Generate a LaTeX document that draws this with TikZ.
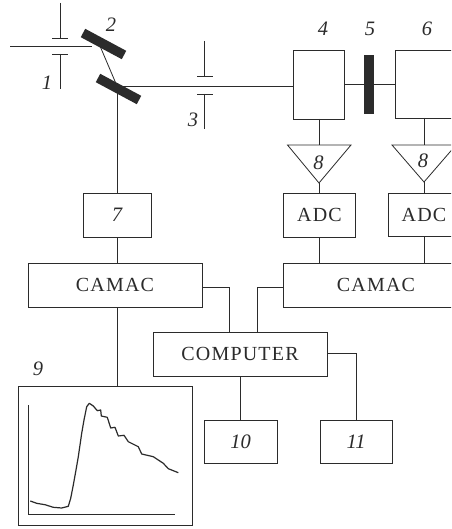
\documentclass[tikz,border=0pt]{standalone}
\usepackage{fontspec}
\setmainfont{Liberation Serif}
\newfontfamily\spacedfont[LetterSpace=6]{Liberation Serif}
\definecolor{ink}{HTML}{2B2B2B}
\tikzset{
  wire/.style={draw=ink,line width=0.8pt},
  boxnode/.style={draw=ink,line width=0.8pt,fill=white,inner sep=0pt,outer sep=0pt,text=ink,font=\spacedfont\fontsize{20}{22}\selectfont},
  numlabel/.style={font=\normalfont\fontsize{20.5}{22}\selectfont\itshape,text=ink,inner sep=0pt},
  mirror/.style={draw=ink,line width=9.5pt},
}
\newcommand{\mybox}[6]{\node[boxnode,minimum width=#4pt,minimum height=#5pt] (#1) at (#2,#3) {#6};}
\newcommand{\numtxt}[1]{{\normalfont\fontsize{20.5}{22}\selectfont\itshape #1}}
\begin{document}
\begin{tikzpicture}[x=1pt,y=-1pt]
\useasboundingbox (0,0) rectangle (451,529);
\clip (0,0) rectangle (451,529);
\fill[white] (0,0) rectangle (451,529);
% boxes
\mybox{bfour}{319}{84.5}{51}{69}{}
\mybox{bsix}{427.5}{84}{65}{68}{}
\mybox{bseven}{117}{215}{68}{44}{\numtxt{7}}
\mybox{adca}{319.5}{215}{72}{44}{ADC}
\mybox{adcb}{424}{214.5}{72}{43}{ADC}
\mybox{cama}{115}{285}{174}{44}{CAMAC}
\mybox{camb}{376}{285}{186}{44}{CAMAC}
\mybox{comp}{240}{354}{174}{44}{COMPUTER}
\mybox{bten}{240.5}{441.5}{73}{43}{\numtxt{10}}
\mybox{beleven}{356}{441.5}{72}{43}{\numtxt{11}}
\mybox{bnine}{105}{455.5}{174}{139}{}
% filter 5
\node[draw=none,fill=ink,minimum width=10pt,minimum height=59pt,inner sep=0pt] (filt) at (369,84.5) {};
% triangles
\coordinate (tal) at (287.5,145); \coordinate (tar) at (351,145); \coordinate (taa) at (319,183); \coordinate (tat) at (319,145);
\coordinate (tbl) at (392,145); \coordinate (tbr) at (456,145); \coordinate (tba) at (424,182); \coordinate (tbt) at (424,145);
\draw[wire,line join=miter] (tal) -- (tar) -- (taa) -- cycle;
\draw[wire,line join=miter] (tbl) -- (tbr) -- (tba) -- cycle;
\node[numlabel] (eighta) at (318.5,163) {8};
\node[numlabel] (eightb) at (423,161) {8};
% optics coordinates
\coordinate (beamstart) at (10,46); \coordinate (mtwo) at (92,46); \coordinate (mtwohit) at (100,46);
\coordinate (mlow) at (117,86); \coordinate (mlowdown) at (117,93);
\coordinate (slotAup) at (60,38); \coordinate (slotAdn) at (60,54);
\coordinate (slotAtop) at (60,3); \coordinate (slotAbot) at (60,89);
\coordinate (slotBup) at (204.5,76); \coordinate (slotBdn) at (204.5,94);
\coordinate (slotBtop) at (204.5,41); \coordinate (slotBbot) at (204.5,129);
% optics wires
\draw[wire] (beamstart) -- (mtwo);
\draw[wire] (mtwohit) -- (mlow);
\draw[wire] (mlow) -- (bfour.west |- mlow);
\draw[wire] (mlowdown) -- (bseven.north);
\draw[wire] (slotAtop) -- (slotAup);
\draw[wire] (slotAdn) -- (slotAbot);
\draw[wire] (52,38) -- (68,38);
\draw[wire] (52,54) -- (68,54);
\draw[wire] (slotBtop) -- (slotBup);
\draw[wire] (slotBdn) -- (slotBbot);
\draw[wire] (197,76) -- (213,76);
\draw[wire] (197,94) -- (213,94);
\draw[mirror] (83,33) -- (124,55);
\draw[mirror] (98,78) -- (139,100);
% connectors
\draw[wire] (bfour.east |- filt) -- (filt.west);
\draw[wire] (filt.east) -- (bsix.west |- filt);
\draw[wire] (tat |- bfour.south) -- (tat);
\draw[wire] (tbt |- bsix.south) -- (tbt);
\draw[wire] (taa) -- (taa |- adca.north);
\draw[wire] (tba) -- (tba |- adcb.north);
\draw[wire] (taa |- adca.south) -- (taa |- camb.north);
\draw[wire] (tba |- adcb.south) -- (tba |- camb.north);
\draw[wire] (bseven.south) -- (bseven.south |- cama.north);
\draw[wire] (bseven.south |- cama.south) -- (bseven.south |- bnine.north);
\coordinate (busa) at (229,287); \coordinate (busb) at (257,287); \coordinate (busc) at (356,353);
\draw[wire] (cama.east |- busa) -- (busa) -- (busa |- comp.north);
\draw[wire] (camb.west |- busb) -- (busb) -- (busb |- comp.north);
\draw[wire] (comp.south -| bten.north) -- (bten.north);
\draw[wire] (comp.east |- busc) -- (busc) -- (beleven.north);
% labels
\node[numlabel] (lone) at (47,83) {1};
\node[numlabel] (ltwo) at (111,25) {2};
\node[numlabel] (lthree) at (193,120) {3};
\node[numlabel] (lfour) at (323,29) {4};
\node[numlabel] (lfive) at (370,29) {5};
\node[numlabel] (lsix) at (427,29) {6};
\node[numlabel] (lnine) at (38,369) {9};
% chart
\draw[wire] (28,405) -- (28,514) -- (175,514);
\draw[draw=ink,line width=1.2pt,line join=round] (30.3,501) -- (36.7,503.3) -- (45,504.7) -- (53.3,507.3) -- (61.7,508) -- (68.3,506.3) -- (70.7,498.3) -- (73.3,485) -- (76,470) -- (78.3,456.7) -- (81.7,433.3) -- (84,420) -- (86.7,406.7) -- (89.3,403.3) -- (93.3,406) -- (97.3,410.7) -- (100.7,410) -- (101.3,416) -- (107.3,417.3) -- (110.7,428) -- (115,427.3) -- (118.3,436) -- (124,435.3) -- (128.3,441.7) -- (138.3,446.7) -- (141.7,454) -- (153.3,456.7) -- (163.3,463.3) -- (168.3,468.7) -- (178.3,472.7);
\end{tikzpicture}
\end{document}
